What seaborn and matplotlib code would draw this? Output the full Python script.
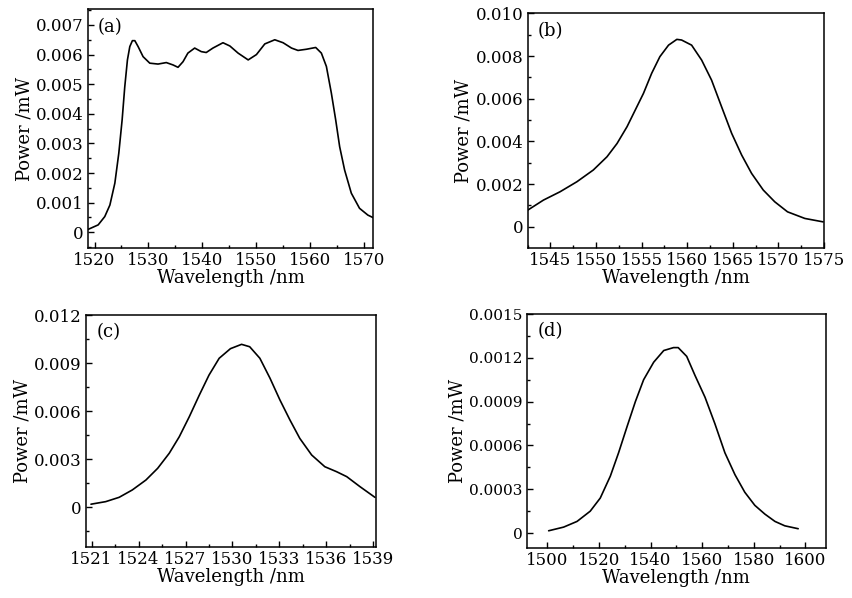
import pandas as pd
import matplotlib
matplotlib.use("Agg")
import matplotlib.pyplot as plt
import seaborn as sns
from matplotlib.ticker import MultipleLocator, FixedLocator, FixedFormatter

# (a) flat-top spectrum
wl_a = [1518.84, 1520.68, 1521.9, 1522.85, 1523.77, 1524.5, 1525.12, 1525.6, 1526.1, 1526.54,
        1527.02, 1527.47, 1528.08, 1529.0, 1530.24, 1531.77, 1533.3, 1534.55, 1535.47, 1536.4,
        1537.3, 1538.56, 1539.78, 1540.7, 1541.94, 1543.8, 1545.08, 1546.6, 1548.47, 1550.0,
        1551.55, 1553.4, 1554.94, 1556.5, 1557.7, 1559.26, 1560.98, 1562.03, 1562.96, 1563.88,
        1564.68, 1565.42, 1566.34, 1567.58, 1569.1, 1570.65, 1571.9]
pw_a = [0.00010, 0.00025, 0.00053, 0.00092, 0.00166, 0.00267, 0.00380, 0.00490, 0.00582, 0.00627,
        0.00647, 0.00647, 0.00627, 0.00593, 0.00571, 0.00568, 0.00573, 0.00565, 0.00557, 0.00576,
        0.00605, 0.00622, 0.00610, 0.00607, 0.00622, 0.00640, 0.00629, 0.00605, 0.00582, 0.00600,
        0.00636, 0.00650, 0.00640, 0.00622, 0.00614, 0.00618, 0.00624, 0.00605, 0.00560, 0.00470,
        0.00380, 0.00289, 0.00210, 0.00132, 0.00081, 0.00058, 0.00047]

# (b)
wl_b = [1542.4, 1544.23, 1546.05, 1547.9, 1549.7, 1551.2, 1552.3, 1553.4, 1554.3, 1555.2,
        1556.1, 1557.0, 1557.95, 1558.86, 1559.38, 1560.48, 1561.58, 1562.67, 1563.77, 1564.87,
        1565.97, 1567.06, 1568.34, 1569.6, 1571.0, 1572.9, 1574.9]
pw_b = [0.00075, 0.00125, 0.00164, 0.00211, 0.00266, 0.00328, 0.00390, 0.00469, 0.00547, 0.00625,
        0.00719, 0.00797, 0.00851, 0.00878, 0.00875, 0.00851, 0.00781, 0.00687, 0.00562, 0.00438,
        0.00336, 0.00250, 0.00172, 0.00117, 0.00070, 0.00039, 0.00023]

# (c)
wl_c = [1520.96, 1521.9, 1522.76, 1523.6, 1524.47, 1525.22, 1525.96, 1526.6, 1527.24, 1527.88,
        1528.5, 1529.15, 1529.87, 1530.58, 1531.1, 1531.75, 1532.4, 1533.03, 1533.67, 1534.3,
        1535.06, 1535.9, 1536.65, 1537.3, 1538.14, 1539.1]
pw_c = [0.00019, 0.00035, 0.00062, 0.00108, 0.00170, 0.00243, 0.00337, 0.00440, 0.00565, 0.00700,
        0.00825, 0.00930, 0.00990, 0.01017, 0.01002, 0.00930, 0.00805, 0.00670, 0.00545, 0.00430,
        0.00326, 0.00253, 0.00222, 0.00191, 0.00129, 0.00062]

# (d)
wl_d = [1500.5, 1506.3, 1511.5, 1516.6, 1520.5, 1524.4, 1527.6, 1530.9, 1534.1, 1537.3,
        1541.2, 1545.1, 1548.9, 1550.7, 1554.0, 1557.2, 1561.1, 1564.9, 1568.8, 1572.7,
        1576.5, 1580.4, 1584.3, 1588.2, 1592.0, 1597.2]
pw_d = [0.000016, 0.000041, 0.000080, 0.000150, 0.000240, 0.000390, 0.000550, 0.000730, 0.000900, 0.001050,
        0.001170, 0.001250, 0.001270, 0.001270, 0.001210, 0.001080, 0.000930, 0.000750, 0.000550, 0.000400,
        0.000280, 0.000190, 0.000130, 0.000080, 0.000050, 0.000030]

yticks_a = [0, 0.001, 0.002, 0.003, 0.004, 0.005, 0.006, 0.007]
ylabels_a = ["0", "0.001", "0.002", "0.003", "0.004", "0.005", "0.006", "0.007"]
yticks_b = [0, 0.002, 0.004, 0.006, 0.008, 0.010]
ylabels_b = ["0", "0.002", "0.004", "0.006", "0.008", "0.010"]
yticks_c = [0, 0.003, 0.006, 0.009, 0.012]
ylabels_c = ["0", "0.003", "0.006", "0.009", "0.012"]
yticks_d = [0, 0.0003, 0.0006, 0.0009, 0.0012, 0.0015]
ylabels_d = ["0", "0.0003", "0.0006", "0.0009", "0.0012", "0.0015"]

sns.set_style("ticks")
plt.rcParams["font.family"] = ["DejaVu Serif"]
for key in ["text.color", "axes.labelcolor", "xtick.color", "ytick.color", "axes.edgecolor"]:
    plt.rcParams[key] = "black"

fig = plt.figure(figsize=(8.53, 5.98), dpi=100)

panels = [
    ("(a)", wl_a, pw_a, [0.1032, 0.5853, 0.3341, 0.3997], (1518.8, 1571.6), (-0.00053, 0.00754),
     10, 5, yticks_a, ylabels_a, 0.0005, 12),
    ("(b)", wl_b, pw_b, [0.6186, 0.5858, 0.3474, 0.3919], (1542.5, 1575.0), (-0.00098, 0.0100),
     5, 2.5, yticks_b, ylabels_b, 0.001, 12),
    ("(c)", wl_c, pw_c, [0.1008, 0.0848, 0.3400, 0.3884], (1520.64, 1539.17), (-0.0025, 0.0120),
     3, 1.5, yticks_c, ylabels_c, 0.0015, 12),
    ("(d)", wl_d, pw_d, [0.6175, 0.0841, 0.3509, 0.3908], (1492.0, 1608.0), (-0.0001, 0.0015),
     20, 10, yticks_d, ylabels_d, 0.00015, 11),
]

for tag, wl, pw, pos, xlim, ylim, xmaj, xmin, yt, yl, ymin, ysize in panels:
    ax = fig.add_axes(pos)
    df = pd.DataFrame({"Wavelength": wl, "Power": pw})
    sns.lineplot(data=df, x="Wavelength", y="Power", color="black", linewidth=1.2, ax=ax)
    ax.set_xlim(*xlim)
    ax.set_ylim(*ylim)
    ax.xaxis.set_major_locator(MultipleLocator(xmaj))
    ax.xaxis.set_minor_locator(MultipleLocator(xmin))
    ax.yaxis.set_major_locator(FixedLocator(yt))
    ax.yaxis.set_major_formatter(FixedFormatter(yl))
    ax.yaxis.set_minor_locator(MultipleLocator(ymin))
    ax.tick_params(which="both", direction="in", top=False, right=False, width=1.0)
    ax.tick_params(which="major", length=4, pad=3)
    ax.tick_params(axis="x", which="major", labelsize=12)
    ax.tick_params(axis="y", which="major", labelsize=ysize)
    ax.tick_params(which="minor", length=2.5)
    for s in ax.spines.values():
        s.set_visible(True)
        s.set_linewidth(1.1)
    ax.set_xlabel("Wavelength /nm", fontsize=13, labelpad=0)
    ax.set_ylabel("Power /mW", fontsize=13, labelpad=2)
    ax.text(0.035, 0.925, tag, transform=ax.transAxes, fontsize=13, va="center", ha="left")

fig.savefig("out.png", dpi=100)
